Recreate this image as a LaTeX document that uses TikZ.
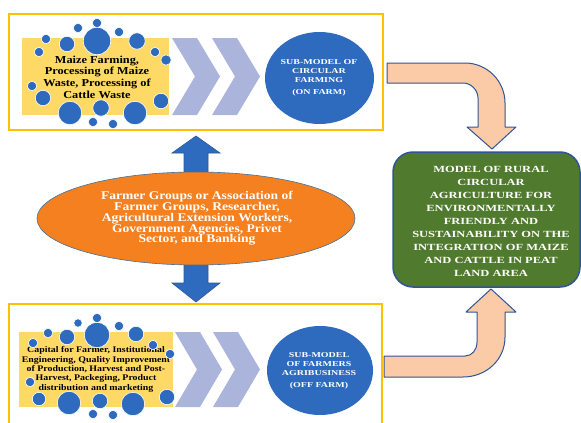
\documentclass[tikz,border=0pt]{standalone}
\usepackage{fontspec}
\setmainfont{Liberation Serif}
\newfontfamily\serifA[FakeStretch=1.15]{Liberation Serif}
\newfontfamily\serifB[FakeStretch=1.33]{Liberation Serif}
\usetikzlibrary{shapes.geometric}
\definecolor{frameyellow}{RGB}{255,192,0}
\definecolor{boxyellow}{RGB}{255,217,102}
\definecolor{dotblue}{RGB}{46,107,190}
\definecolor{chev}{RGB}{171,181,219}
\definecolor{orangeE}{RGB}{244,128,32}
\definecolor{greenB}{RGB}{80,122,46}
\definecolor{peach}{RGB}{251,203,168}
\definecolor{darkline}{RGB}{47,85,151}
\definecolor{grayblue}{RGB}{65,113,156}
\tikzset{
  frame/.style={draw=frameyellow, line width=2pt},
  ybox/.style={fill=boxyellow},
  dot/.style={fill=dotblue, draw=white, line width=0.6pt},
  chevron/.style={fill=chev},
  bendarrow/.style={fill=peach, draw=darkline, line width=1pt, line join=round},
  blockarrow/.style={fill=dotblue, draw=darkline, line width=0.6pt},
  subell/.style={ellipse, fill=dotblue, inner sep=0pt},
  subtext/.style={align=center, text=white, font=\serifB\bfseries\fontsize{7.5}{8.8}\selectfont, inner sep=0pt},
}
\begin{document}
\begin{tikzpicture}[x=1pt,y=-1pt]
\useasboundingbox (0,0) rectangle (581,423);
\clip (0,0) rectangle (581,423);
% ---------- top frame ----------
\draw[frame] (9,14) rectangle (383,130);
\fill[ybox] (22,38) rectangle (169,115);
\node[align=center, inner sep=0pt, font=\serifA\bfseries\fontsize{10.7}{11.7}\selectfont] (toptext) at (97,77)
  {Maize Farming,\\Processing of Maize\\Waste, Processing of\\Cattle Waste};
\foreach \x/\y/\r in {78/28/4,97/23/4,119/32/4,46/39/4,67/44/7,97/41/13,137/41/7.5,39/52/4,155/52/4,166/60/4.5,32/86/4,43/98/7,161/101/7,101/108/7.5,70/113/11,135/113/11,93/122/4,113/124/4}
  \draw[dot] (\x,\y) circle [radius=\r+0.7];
\foreach \L in {172,212}
  \fill[chevron] (\L,38) -- (\L+25,38) -- (\L+48,76.5) -- (\L+25,115) -- (\L,115) -- (\L+23,76.5) -- cycle;
\node[subell, minimum width=109pt, minimum height=92pt] (sub1) at (319.5,78) {};
\node[subtext] (sub1text) at (319,78) {SUB-MODEL OF\\CIRCULAR\\FARMING\\[3pt](ON FARM)};
% ---------- bottom frame ----------
\draw[frame] (9,430) -- (9,304) -- (382,304) -- (382,430);
\fill[ybox] (19,332) rectangle (173,407);
\node[align=center, inner sep=0pt, font=\serifA\bfseries\fontsize{8.6}{9.3}\selectfont] (bottext) at (96,369.5)
  {Capital for Farmer, Institutional\\Engineering, Quality Improvement\\of Production, Harvest and Post-\\Harvest, Packeging, Product\\distribution and marketing};
\foreach \x/\y/\r in {78/323/3.5,97/318/4,119/326/4,48/333/4,67/337/7,97/335/12,136/334/7,33/343/4,153/345/4,170/354/4,30/382/4,39/399/6,167/397/7,100/401/7,69/403/11,133/404/11,93/414/4,113/415/4}
  \draw[dot] (\x,\y) circle [radius=\r+0.7];
\foreach \L in {175,213}
  \fill[chevron] (\L,332) -- (\L+25,332) -- (\L+47,369.5) -- (\L+25,407) -- (\L,407) -- (\L+22,369.5) -- cycle;
\node[subell, minimum width=106pt, minimum height=89pt] (sub2) at (320,370.5) {};
\node[subtext] (sub2text) at (319,371) {SUB-MODEL\\OF FARMERS\\AGRIBUSINESS\\[3pt](OFF FARM)};
% ---------- middle ----------
\draw[blockarrow] (184,178) -- (184,153) -- (172,153) -- (196,136) -- (220,153) -- (208,153) -- (208,178) -- cycle;
\draw[blockarrow] (184,258) -- (184,283) -- (172,283) -- (196,302) -- (220,283) -- (208,283) -- (208,258) -- cycle;
\node[ellipse, fill=orangeE, draw=grayblue, line width=0.6pt, minimum width=318pt, minimum height=93pt, inner sep=0pt] (actors) at (196,218.5) {};
\node[align=center, inner sep=0pt, text=white, font=\serifA\bfseries\fontsize{11.8}{10.8}\selectfont] (actorstext) at (197,218.5)
  {Farmer Groups or Association of\\Farmer Groups, Researcher,\\Agricultural Extension Workers,\\Government Agencies, Privet\\Sector, and Banking};
% ---------- bent arrows ----------
\draw[bendarrow] (387,63) -- (465,63) .. controls (487,63) and (505,81) .. (505,103) -- (505,127) -- (516,127) -- (492,149) -- (467,127) -- (478,127) -- (478,98) .. controls (478,90) and (471,83) .. (463,83) -- (387,83) -- cycle;
\draw[bendarrow] (384,356) -- (465,356) .. controls (472,356) and (477,350) .. (477,342) -- (477,312) -- (466,312) -- (491,289) -- (516,312) -- (505,312) -- (505,337) .. controls (505,360) and (486,377) .. (463,377) -- (384,377) -- cycle;
% ---------- model box ----------
\node[rectangle, rounded corners=20pt, fill=greenB, draw=darkline, line width=1.5pt, minimum width=187pt, minimum height=135pt] (model) at (486.5,219.5) {};
\node[align=center, inner sep=0pt, text=white, font=\serifB\bfseries\fontsize{9.4}{13}\selectfont] (modeltext) at (491,221)
  {MODEL OF RURAL\\CIRCULAR\\AGRICULTURE FOR\\ENVIRONMENTALLY\\FRIENDLY AND\\SUSTAINABILITY ON THE\\INTEGRATION OF MAIZE\\AND CATTLE IN PEAT\\LAND AREA};
\end{tikzpicture}
\end{document}
